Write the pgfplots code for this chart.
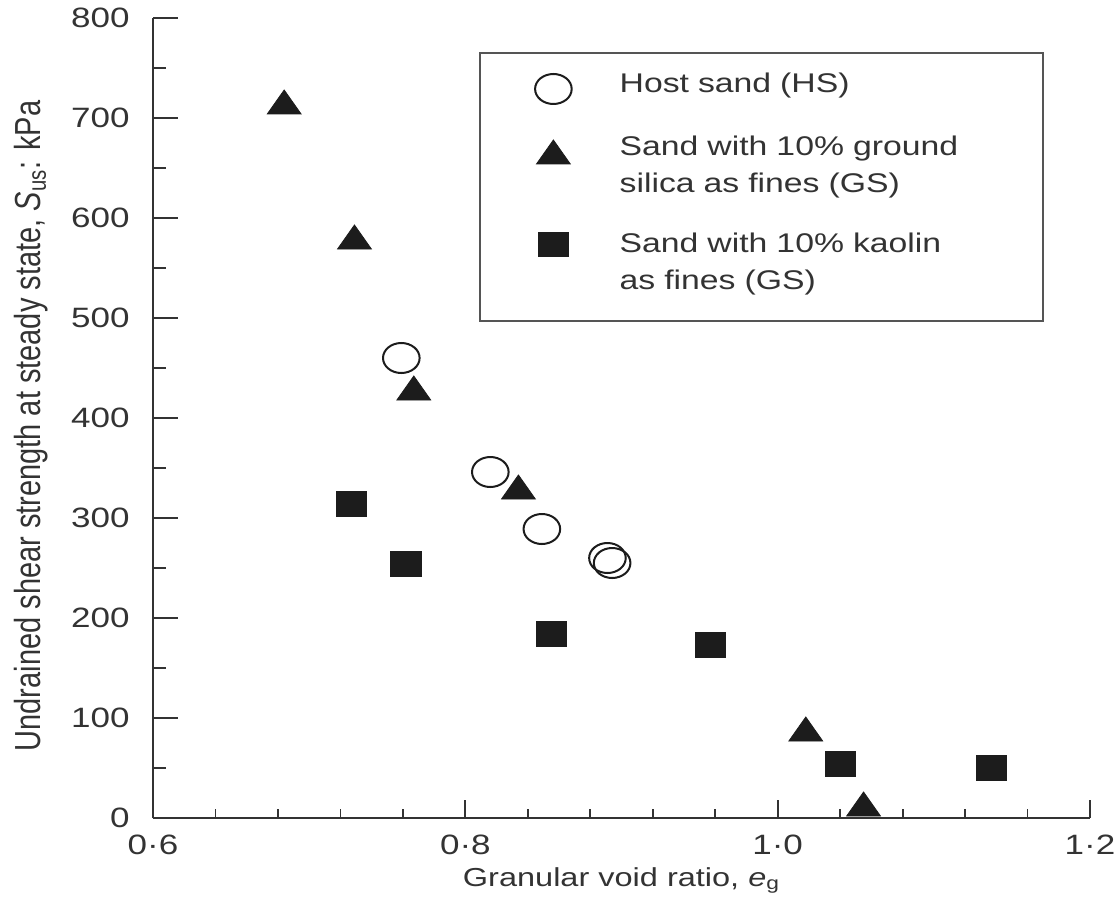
\documentclass[border=0pt]{standalone}
\usepackage{fontspec}
\setmainfont{Liberation Sans}[FakeStretch=1.25]
\newfontfamily\ylabfont{Liberation Sans}
\usepackage{pgfplots}
\pgfplotsset{compat=1.18}
\definecolor{axc}{HTML}{333333}
\definecolor{mk}{HTML}{1C1C1C}
\definecolor{lgc}{HTML}{555555}
\begin{document}
\begin{tikzpicture}
% x axis (bottom) with its own tick lengths
\begin{axis}[
  scale only axis, width=468.5pt, height=400pt,
  xmin=0.6, xmax=1.2, ymin=0, ymax=800,
  axis x line=bottom, axis y line=none,
  axis line style={-, line width=1pt, color=axc},
  xtick={0.6,0.8,1.0,1.2},
  xticklabels={0·6,0·8,1·0,1·2},
  minor x tick num=4,
  tick align=inside,
  major tick length=9pt, minor tick length=4.5pt,
  tick style={line width=0.9pt, color=axc},
  xticklabel style={font=\fontsize{14}{16}\selectfont, text=axc, inner sep=0pt, anchor=north, yshift=-8.5pt},
  xlabel={Granular void ratio, \textit{e}\textsubscript{g}},
  xlabel style={font=\fontsize{13}{15}\selectfont, text=axc, at={(rel axis cs:0.5,0)}, anchor=base, yshift=-34pt},
]
\coordinate (sw) at (rel axis cs:0,0);
\coordinate (ne) at (rel axis cs:1,1);
\end{axis}
% y axis, data and legend
\begin{axis}[
  scale only axis, width=468.5pt, height=400pt,
  xmin=0.6, xmax=1.2, ymin=0, ymax=800,
  axis x line=none, axis y line=left,
  axis line style={-, line width=1pt, color=axc},
  ytick={0,100,...,800},
  yticklabels={0,100,200,300,400,500,600,700,800},
  minor y tick num=1,
  tick align=inside,
  major tick length=12.5pt, minor tick length=6.5pt,
  tick style={line width=0.9pt, color=axc},
  yticklabel style={font=\fontsize{14}{16}\selectfont, text=axc, inner sep=0pt, anchor=east, xshift=-11.5pt},
  ylabel={Undrained shear strength at steady state, \textit{S}\textsubscript{us}: kPa},
  ylabel style={font=\ylabfont\fontsize{14.5}{16}\selectfont, text=axc, at={(axis description cs:-0.13,0.49)}, anchor=center, yscale=1.25},
  clip=false,
  legend style={at={(rel axis cs:0.348,0.9575)}, anchor=north west, draw=lgc, line width=1pt,
    inner xsep=27.5pt, inner ysep=2.5pt, row sep=0pt, column sep=24pt,
    font=\fontsize{13.5}{18.5}\selectfont, text=axc,
    nodes={inner sep=0pt, text width=184pt, align=left},
    cells={anchor=base west}},
]
\addplot[only marks, mark=o, mark size=7.5pt,
  mark options={xscale=1.22, line width=1pt, draw=mk},
  legend image post style={yshift=2pt}]
  coordinates {(0.759,460) (0.816,346) (0.849,289) (0.891,260) (0.894,255)};
\addlegendentry[text height=17.5pt, text depth=14pt]{Host sand (HS)}
\addplot[only marks, mark=triangle*, mark size=8pt,
  mark options={xscale=1.22, line width=0.4pt, draw=mk, fill=mk}]
  coordinates {(0.684,712) (0.729,577) (0.767,426) (0.834,327) (1.018,85) (1.055,10)};
\addlegendentry[text height=17.5pt, text depth=6pt]{Sand with 10\% ground}
\addlegendimage{empty legend}
\addlegendentry[text height=12.5pt, text depth=12.5pt]{silica as fines (GS)}
\addplot[only marks, mark=square*, mark size=6.2pt,
  mark options={xscale=1.22, line width=0.4pt, draw=mk, fill=mk},
  legend image post style={yshift=4.25pt}]
  coordinates {(0.727,314) (0.762,254) (0.855,184) (0.957,173) (1.040,54) (1.137,50)};
\addlegendentry[text height=17.5pt, text depth=6pt]{Sand with 10\% kaolin}
\addlegendimage{empty legend}
\addlegendentry[text height=12.5pt, text depth=13pt]{as fines (GS)}
\end{axis}
\pgfresetboundingbox
\path[use as bounding box] ([shift={(-76.5pt,-46.5pt)}]sw) rectangle ([shift={(15pt,9pt)}]ne);
\end{tikzpicture}
\end{document}
